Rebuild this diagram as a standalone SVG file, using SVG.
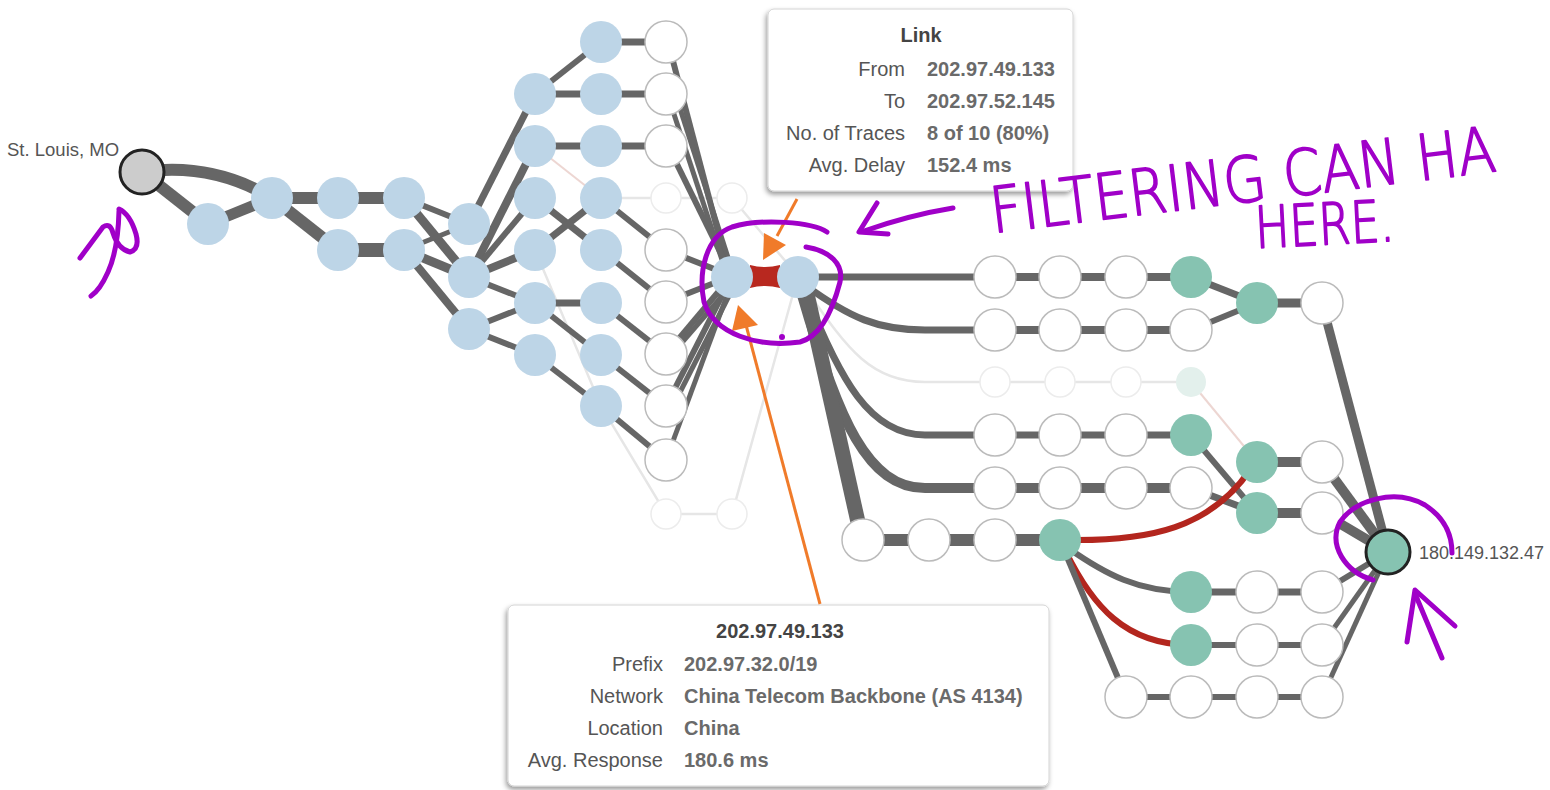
<svg xmlns="http://www.w3.org/2000/svg" width="1550" height="790" viewBox="0 0 1550 790">
<defs>
<style>
.e{stroke:#666;fill:none;stroke-linecap:butt}
.f{stroke:#e6e6e6;fill:none;stroke-width:2.5}
.fp{stroke:#edd6d2;fill:none;stroke-width:2}
.red{stroke:#b3261e;fill:none}
.nb{fill:#bdd5e7}
.nw{fill:#fff;stroke:#bbb;stroke-width:1.5}
.ng{fill:#86c3b1}
.nf{fill:#fff;stroke:#ececec;stroke-width:1.5}
.nfg{fill:#e3f0ec}
.end{stroke:#222;stroke-width:3}
.lbl{font-family:"Liberation Sans",Arial,sans-serif;fill:#555}
.tl{font-family:"Liberation Sans",Arial,sans-serif;font-size:20px;fill:#555;text-anchor:end}
.tv{font-family:"Liberation Sans",Arial,sans-serif;font-size:20px;fill:#6a6a6a;font-weight:bold}
.tt{font-family:"Liberation Sans",Arial,sans-serif;font-size:20px;fill:#444;font-weight:bold;text-anchor:middle}
.box{fill:#fff;stroke:#d4d4d4;stroke-width:1;filter:url(#sh)}
.oa{stroke:#f07b2a;stroke-width:3;fill:none}
.oh{fill:#f07b2a}
.pu{stroke:#a000c8;stroke-width:5;fill:none;stroke-linecap:round;stroke-linejoin:round}
.hw{font-family:"DejaVu Sans ExtraLight","DejaVu Sans",sans-serif;font-weight:200;fill:#a000c8;stroke:#a000c8;stroke-width:1.5;stroke-linejoin:round}
</style>
<filter id="sh" x="-10%" y="-10%" width="120%" height="130%">
<feDropShadow dx="-1.5" dy="3" stdDeviation="2.5" flood-color="#000" flood-opacity="0.4"/>
</filter>
</defs>
<rect width="1550" height="790" fill="#fff"/>

<g id="connectors">
<line class="f" x1="601" y1="198" x2="732" y2="198"/>
<line class="fp" x1="535" y1="146" x2="601" y2="198"/>
<polyline class="f" points="535,250 601,406 666,514 732,514 798,276"/>
<line class="f" x1="732" y1="198" x2="798" y2="276"/>
<path class="e" stroke-width="12" d="M142,172 Q212,162 272,198"/>
<line class="e" stroke-width="12" x1="142" y1="172" x2="208" y2="224"/>
<line class="e" stroke-width="11" x1="208" y1="224" x2="272" y2="198"/>
<line class="e" stroke-width="12" x1="272" y1="198" x2="404" y2="198"/>
<line class="e" stroke-width="12" x1="272" y1="198" x2="338" y2="250"/>
<line class="e" stroke-width="14" x1="338" y1="250" x2="404" y2="250"/>
<line class="e" stroke-width="6" x1="404" y1="198" x2="469" y2="224"/>
<line class="e" stroke-width="9" x1="404" y1="198" x2="469" y2="277"/>
<line class="e" stroke-width="5" x1="404" y1="250" x2="469" y2="224"/>
<line class="e" stroke-width="9" x1="404" y1="250" x2="469" y2="277"/>
<line class="e" stroke-width="8" x1="404" y1="250" x2="469" y2="329"/>
<line class="e" stroke-width="7" x1="469" y1="224" x2="535" y2="94"/>
<line class="e" stroke-width="8" x1="469" y1="277" x2="535" y2="146"/>
<line class="e" stroke-width="6" x1="469" y1="277" x2="535" y2="198"/>
<line class="e" stroke-width="8" x1="469" y1="277" x2="535" y2="250"/>
<line class="e" stroke-width="6" x1="469" y1="277" x2="535" y2="303"/>
<line class="e" stroke-width="6" x1="469" y1="329" x2="535" y2="303"/>
<line class="e" stroke-width="6" x1="469" y1="329" x2="535" y2="355"/>
<line class="e" stroke-width="6" x1="535" y1="94" x2="601" y2="42"/>
<line class="e" stroke-width="7" x1="535" y1="94" x2="666" y2="94"/>
<line class="e" stroke-width="7" x1="535" y1="146" x2="666" y2="146"/>
<line class="e" stroke-width="7" x1="601" y1="42" x2="666" y2="42"/>
<line class="e" stroke-width="7" x1="535" y1="198" x2="601" y2="250"/>
<line class="e" stroke-width="7" x1="535" y1="250" x2="601" y2="198"/>
<line class="e" stroke-width="7" x1="535" y1="303" x2="601" y2="303"/>
<line class="e" stroke-width="6" x1="535" y1="303" x2="601" y2="355"/>
<line class="e" stroke-width="6" x1="535" y1="355" x2="601" y2="406"/>
<line class="e" stroke-width="6" x1="601" y1="198" x2="666" y2="250"/>
<line class="e" stroke-width="6" x1="601" y1="250" x2="666" y2="302"/>
<line class="e" stroke-width="6" x1="601" y1="303" x2="666" y2="354"/>
<line class="e" stroke-width="6" x1="601" y1="355" x2="666" y2="406"/>
<line class="e" stroke-width="6" x1="601" y1="406" x2="666" y2="460"/>
<line class="e" stroke-width="6" x1="668" y1="42" x2="728" y2="270"/>
<line class="e" stroke-width="5" x1="668" y1="96" x2="726" y2="272"/>
<line class="e" stroke-width="5" x1="676" y1="96" x2="732" y2="270"/>
<line class="e" stroke-width="6" x1="668" y1="146" x2="730" y2="272"/>
<line class="e" stroke-width="6" x1="666" y1="250" x2="732" y2="276"/>
<line class="e" stroke-width="6" x1="666" y1="302" x2="732" y2="276"/>
<line class="e" stroke-width="6" x1="666" y1="354" x2="730" y2="278"/>
<line class="e" stroke-width="5" x1="672" y1="354" x2="736" y2="280"/>
<line class="e" stroke-width="6" x1="666" y1="406" x2="730" y2="280"/>
<line class="e" stroke-width="5" x1="673" y1="406" x2="736" y2="282"/>
<line class="e" stroke-width="5" x1="666" y1="460" x2="732" y2="282"/>
<line class="e" stroke-width="7" x1="798" y1="277" x2="995" y2="277"/>
<path class="e" stroke-width="7" d="M805,285 C850,318 878,330 925,330 L995,330"/>
<path class="f" d="M808,292 C848,350 872,382 925,382 L1191,382"/>
<path class="e" stroke-width="7" d="M805,292 C840,380 870,435 925,435 L995,435"/>
<path class="e" stroke-width="10" d="M802,295 C838,420 868,488 925,488 L995,488"/>
<line class="e" stroke-width="15" x1="805" y1="285" x2="862" y2="540"/>
<line class="e" stroke-width="8" x1="995" y1="277" x2="1191" y2="277"/>
<line class="e" stroke-width="8" x1="995" y1="330" x2="1191" y2="330"/>
<line class="e" stroke-width="7" x1="1191" y1="277" x2="1257" y2="303"/>
<line class="e" stroke-width="6" x1="1191" y1="330" x2="1257" y2="303"/>
<line class="e" stroke-width="9" x1="1257" y1="303" x2="1322" y2="303"/>
<line class="e" stroke-width="9" x1="1322" y1="303" x2="1388" y2="552"/>
<line class="fp" x1="1191" y1="382" x2="1257" y2="462"/>
<line class="e" stroke-width="7" x1="995" y1="435" x2="1191" y2="435"/>
<line class="e" stroke-width="10" x1="995" y1="488" x2="1191" y2="488"/>
<line class="e" stroke-width="6" x1="1191" y1="435" x2="1257" y2="513"/>
<line class="e" stroke-width="7" x1="1191" y1="488" x2="1257" y2="513"/>
<line class="e" stroke-width="10" x1="1257" y1="462" x2="1322" y2="462"/>
<line class="e" stroke-width="10" x1="1257" y1="513" x2="1322" y2="513"/>
<line class="e" stroke-width="10" x1="1322" y1="462" x2="1388" y2="552"/>
<line class="e" stroke-width="10" x1="1322" y1="513" x2="1388" y2="552"/>
<line class="e" stroke-width="12" x1="863" y1="540" x2="1060" y2="540"/>
<path class="red" stroke-width="6" d="M1070,540 C1150,541 1210,528 1250,470"/>
<path class="e" stroke-width="6" d="M1068,548 C1105,574 1138,592 1191,592"/>
<path class="red" stroke-width="6" d="M1066,552 C1092,605 1125,645 1191,645"/>
<line class="e" stroke-width="6" x1="1062" y1="545" x2="1126" y2="697"/>
<line class="e" stroke-width="7" x1="1191" y1="592" x2="1322" y2="592"/>
<line class="e" stroke-width="6" x1="1322" y1="592" x2="1388" y2="552"/>
<line class="e" stroke-width="6" x1="1191" y1="645" x2="1322" y2="645"/>
<line class="e" stroke-width="5" x1="1322" y1="645" x2="1388" y2="552"/>
<line class="e" stroke-width="6" x1="1126" y1="697" x2="1322" y2="697"/>
<line class="e" stroke-width="5" x1="1322" y1="697" x2="1388" y2="552"/>
<path fill="#b8281f" d="M750,265 Q765,269 780,265 L780,288 Q765,284 750,288 Z"/>
</g>

<g id="n-src"><circle class="end" cx="142" cy="172" r="22" fill="#cccccc"/><text class="lbl" x="7" y="156" font-size="18.5">St. Louis, MO</text></g>
<g id="n-b1"><circle class="nb" cx="208" cy="224" r="21"/></g>
<g id="n-b2"><circle class="nb" cx="272" cy="198" r="21"/></g>
<g id="n-b3"><circle class="nb" cx="338" cy="198" r="21"/></g>
<g id="n-b4"><circle class="nb" cx="404" cy="198" r="21"/></g>
<g id="n-b5"><circle class="nb" cx="338" cy="250" r="21"/></g>
<g id="n-b6"><circle class="nb" cx="404" cy="250" r="21"/></g>
<g id="n-c1"><circle class="nb" cx="469" cy="224" r="21"/></g>
<g id="n-c2"><circle class="nb" cx="469" cy="277" r="21"/></g>
<g id="n-c3"><circle class="nb" cx="469" cy="329" r="21"/></g>
<g id="n-d1"><circle class="nb" cx="535" cy="94" r="21"/></g>
<g id="n-d2"><circle class="nb" cx="535" cy="146" r="21"/></g>
<g id="n-d3"><circle class="nb" cx="535" cy="198" r="21"/></g>
<g id="n-d4"><circle class="nb" cx="535" cy="250" r="21"/></g>
<g id="n-d5"><circle class="nb" cx="535" cy="303" r="21"/></g>
<g id="n-d6"><circle class="nb" cx="535" cy="355" r="21"/></g>
<g id="n-e1"><circle class="nb" cx="601" cy="42" r="21"/></g>
<g id="n-e2"><circle class="nb" cx="601" cy="94" r="21"/></g>
<g id="n-e3"><circle class="nb" cx="601" cy="146" r="21"/></g>
<g id="n-e4"><circle class="nb" cx="601" cy="198" r="21"/></g>
<g id="n-e5"><circle class="nb" cx="601" cy="250" r="21"/></g>
<g id="n-e6"><circle class="nb" cx="601" cy="303" r="21"/></g>
<g id="n-e7"><circle class="nb" cx="601" cy="355" r="21"/></g>
<g id="n-e8"><circle class="nb" cx="601" cy="406" r="21"/></g>
<g id="n-w1"><circle class="nw" cx="666" cy="42" r="21"/></g>
<g id="n-w2"><circle class="nw" cx="666" cy="94" r="21"/></g>
<g id="n-w3"><circle class="nw" cx="666" cy="146" r="21"/></g>
<g id="n-w4"><circle class="nf" cx="666" cy="198" r="15"/></g>
<g id="n-w5"><circle class="nw" cx="666" cy="250" r="21"/></g>
<g id="n-w6"><circle class="nw" cx="666" cy="302" r="21"/></g>
<g id="n-w7"><circle class="nw" cx="666" cy="354" r="21"/></g>
<g id="n-w8"><circle class="nw" cx="666" cy="406" r="21"/></g>
<g id="n-w9"><circle class="nw" cx="666" cy="460" r="21"/></g>
<g id="n-w10"><circle class="nf" cx="666" cy="514" r="15"/></g>
<g id="n-x1"><circle class="nf" cx="732" cy="198" r="15"/></g>
<g id="n-x2"><circle class="nf" cx="732" cy="514" r="15"/></g>
<g id="n-h1"><circle class="nb" cx="732" cy="277" r="21"/></g>
<g id="n-h2"><circle class="nb" cx="798" cy="277" r="21"/></g>

<g id="n-r1a"><circle class="nw" cx="995" cy="277" r="21"/></g>
<g id="n-r1b"><circle class="nw" cx="1060" cy="277" r="21"/></g>
<g id="n-r1c"><circle class="nw" cx="1126" cy="277" r="21"/></g>
<g id="n-r1d"><circle class="ng" cx="1191" cy="277" r="21"/></g>
<g id="n-r2a"><circle class="nw" cx="995" cy="330" r="21"/></g>
<g id="n-r2b"><circle class="nw" cx="1060" cy="330" r="21"/></g>
<g id="n-r2c"><circle class="nw" cx="1126" cy="330" r="21"/></g>
<g id="n-r2d"><circle class="nw" cx="1191" cy="330" r="21"/></g>
<g id="n-g1"><circle class="ng" cx="1257" cy="303" r="21"/></g>
<g id="n-wr1"><circle class="nw" cx="1322" cy="303" r="21"/></g>
<g id="n-r3a"><circle class="nf" cx="995" cy="382" r="15"/></g>
<g id="n-r3b"><circle class="nf" cx="1060" cy="382" r="15"/></g>
<g id="n-r3c"><circle class="nf" cx="1126" cy="382" r="15"/></g>
<g id="n-r3d"><circle class="nfg" cx="1191" cy="382" r="15"/></g>
<g id="n-r4a"><circle class="nw" cx="995" cy="435" r="21"/></g>
<g id="n-r4b"><circle class="nw" cx="1060" cy="435" r="21"/></g>
<g id="n-r4c"><circle class="nw" cx="1126" cy="435" r="21"/></g>
<g id="n-r4d"><circle class="ng" cx="1191" cy="435" r="21"/></g>
<g id="n-r5a"><circle class="nw" cx="995" cy="488" r="21"/></g>
<g id="n-r5b"><circle class="nw" cx="1060" cy="488" r="21"/></g>
<g id="n-r5c"><circle class="nw" cx="1126" cy="488" r="21"/></g>
<g id="n-r5d"><circle class="nw" cx="1191" cy="488" r="21"/></g>
<g id="n-g2"><circle class="ng" cx="1257" cy="462" r="21"/></g>
<g id="n-wr2"><circle class="nw" cx="1322" cy="462" r="21"/></g>
<g id="n-g3"><circle class="ng" cx="1257" cy="513" r="21"/></g>
<g id="n-wr3"><circle class="nw" cx="1322" cy="513" r="21"/></g>
<g id="n-r6a"><circle class="nw" cx="863" cy="540" r="21"/></g>
<g id="n-r6b"><circle class="nw" cx="929" cy="540" r="21"/></g>
<g id="n-r6c"><circle class="nw" cx="995" cy="540" r="21"/></g>
<g id="n-r6d"><circle class="ng" cx="1060" cy="540" r="21"/></g>
<g id="n-r7a"><circle class="ng" cx="1191" cy="592" r="21"/></g>
<g id="n-r7b"><circle class="nw" cx="1257" cy="592" r="21"/></g>
<g id="n-r7c"><circle class="nw" cx="1322" cy="592" r="21"/></g>
<g id="n-r8a"><circle class="ng" cx="1191" cy="645" r="21"/></g>
<g id="n-r8b"><circle class="nw" cx="1257" cy="645" r="21"/></g>
<g id="n-r8c"><circle class="nw" cx="1322" cy="645" r="21"/></g>
<g id="n-r9a"><circle class="nw" cx="1126" cy="697" r="21"/></g>
<g id="n-r9b"><circle class="nw" cx="1191" cy="697" r="21"/></g>
<g id="n-r9c"><circle class="nw" cx="1257" cy="697" r="21"/></g>
<g id="n-r9d"><circle class="nw" cx="1322" cy="697" r="21"/></g>
<g id="n-tgt"><circle class="end" cx="1388" cy="552" r="22" fill="#86c3b1"/><text class="lbl" x="1419" y="559" font-size="18">180.149.132.47</text></g>

<g id="tip-link">
<rect class="box" x="768" y="9" width="305" height="182" rx="6"/>
<text class="tt" x="921" y="42">Link</text>
<text class="tl" x="905" y="76">From</text><text class="tv" x="927" y="76">202.97.49.133</text>
<text class="tl" x="905" y="108">To</text><text class="tv" x="927" y="108">202.97.52.145</text>
<text class="tl" x="905" y="140">No. of Traces</text><text class="tv" x="927" y="140">8 of 10 (80%)</text>
<text class="tl" x="905" y="172">Avg. Delay</text><text class="tv" x="927" y="172">152.4 ms</text>
</g>
<g id="tip-node">
<rect class="box" x="508" y="605" width="541" height="181" rx="6"/>
<text class="tt" x="780" y="638">202.97.49.133</text>
<text class="tl" x="663" y="671">Prefix</text><text class="tv" x="684" y="671">202.97.32.0/19</text>
<text class="tl" x="663" y="703">Network</text><text class="tv" x="684" y="703">China Telecom Backbone (AS 4134)</text>
<text class="tl" x="663" y="735">Location</text><text class="tv" x="684" y="735">China</text>
<text class="tl" x="663" y="767">Avg. Response</text><text class="tv" x="684" y="767">180.6 ms</text>
</g>
<g id="pointers">
<line class="oa" x1="797" y1="199" x2="777" y2="236"/>
<polygon class="oh" points="763,260 764,233 786,245"/>
<line class="oa" x1="820" y1="604" x2="746" y2="325"/>
<polygon class="oh" points="738,305 732,331 758,325"/>
</g>
<g id="annotations">
<path class="pu" d="M80,258 L103,227 Q110,222 113,233 Q118,249 130,252 Q140,249 136,234 Q130,214 119,209"/>
<path class="pu" d="M119,211 Q118,250 108,272 Q100,290 91,296"/>
<path class="pu" d="M827,232 C812,222 762,218 732,227 C706,236 698,272 704,302 C714,334 758,348 800,342 C822,336 834,305 840,282 C844,264 830,251 806,247"/>
<circle cx="782" cy="337" r="3" fill="#a000c8"/>
<path class="pu" d="M953,208 Q910,215 864,231"/>
<path class="pu" d="M877,203 L859,232 L888,234"/>
<path class="pu" d="M1373,580 C1345,572 1328,545 1340,522 C1355,500 1395,488 1425,505 C1445,518 1452,535 1452,553"/>
<path class="pu" d="M1407,642 L1415,590 L1455,626"/>
<path class="pu" d="M1416,596 L1442,658"/>
<g transform="translate(993 233) rotate(-7) scale(1 1.15)"><text class="hw" font-size="55" x="0" y="0">FILTERING CAN HA</text></g>
<g transform="translate(1256 248) rotate(-3) scale(1 1.25)"><text class="hw" font-size="46" x="0" y="0">HERE.</text></g>
</g>
</svg>
